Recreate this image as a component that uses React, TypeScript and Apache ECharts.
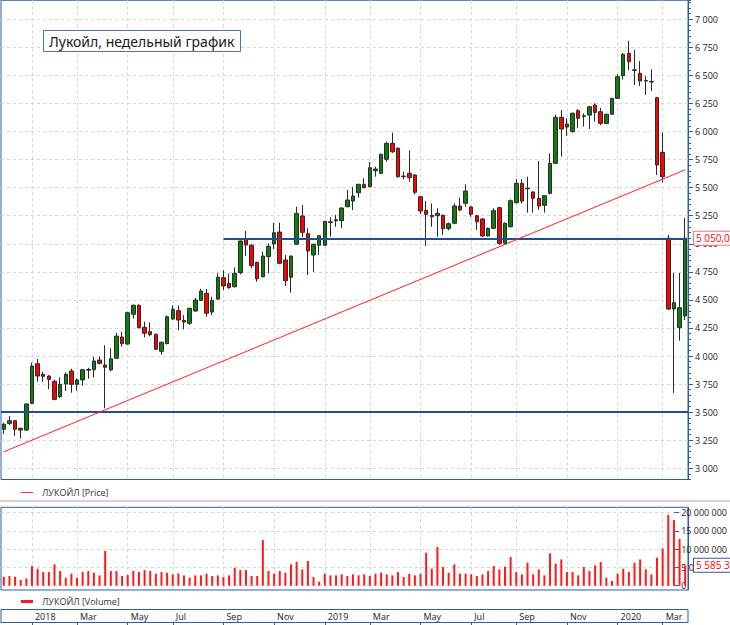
import React, { useEffect, useRef } from 'react';
import * as echarts from 'echarts';

const TITLE = 'Лукойл, недельный график';
const PRICE_NAME = 'ЛУКОЙЛ [Price]';
const VOLUME_NAME = 'ЛУКОЙЛ [Volume]';
const FIRST_WEEK_UTC = Date.UTC(2017, 11, 3);
const MONTH_LABELS = ['Jan', 'Feb', 'Mar', 'Apr', 'May', 'Jun', 'Jul', 'Aug', 'Sep', 'Oct', 'Nov', 'Dec'];

const opens = [
  3347, 3400, 3424, 3356, 3340, 3579, 3932, 3837, 3822, 3775, 3638, 3751, 3867, 3748, 3787, 3874, 3878, 3964, 3920, 3876,
  3980, 4170, 4107, 4372, 4452, 4256, 4217, 4194, 4042, 4110, 4330, 4404, 4318, 4292, 4401, 4496, 4559, 4392, 4508, 4698,
  4648, 4618, 4742, 5043, 4987, 4835, 4707, 4885, 4998, 5105, 4856, 4702, 4996, 5248, 5090, 4900, 4987, 4987, 5190, 5205,
  5206, 5331, 5381, 5455, 5530, 5509, 5651, 5628, 5753, 5895, 5851, 5598, 5628, 5613, 5420, 5298, 5254, 5250, 5254, 5135,
  5183, 5337, 5361, 5328, 5250, 5221, 5070, 5138, 5322, 5004, 5152, 5366, 5539, 5490, 5461, 5405, 5343, 5450, 5717, 6127,
  6067, 6000, 6186, 6135, 6147, 6236, 6177, 6073, 6154, 6296, 6498, 6697, 6550, 6519, 6455, 6446, 6302, 5815, 5050, 4419,
  4253, 4357,
];
const closes = [
  3392, 3424, 3347, 3340, 3573, 3911, 3822, 3819, 3792, 3614, 3748, 3837, 3748, 3787, 3878, 3880, 3956, 3935, 3900, 3976,
  4178, 4110, 4386, 4452, 4253, 4203, 4190, 4060, 4122, 4350, 4416, 4321, 4303, 4425, 4499, 4579, 4381, 4496, 4702, 4624,
  4609, 4737, 5025, 4989, 4805, 4689, 4891, 4978, 5099, 4826, 4671, 4891, 5271, 5102, 4936, 4996, 5072, 5200, 5196, 5215,
  5319, 5390, 5426, 5530, 5500, 5678, 5666, 5797, 5895, 5820, 5598, 5603, 5589, 5459, 5292, 5263, 5241, 5272, 5135, 5179,
  5337, 5301, 5470, 5263, 5197, 5070, 5138, 5295, 5004, 5183, 5384, 5539, 5381, 5495, 5405, 5337, 5429, 5717, 6127, 6023,
  6041, 6163, 6118, 6140, 6221, 6171, 6073, 6154, 6296, 6489, 6688, 6622, 6545, 6450, 6450, 6442, 5702, 5598, 4419, 4475,
  4431, 5050,
];
const lows = [
  3306, 3386, 3290, 3267, 3335, 3570, 3771, 3771, 3704, 3605, 3626, 3689, 3673, 3692, 3736, 3798, 3810, 3926, 3534, 3864,
  3975, 4083, 4100, 4333, 4245, 4167, 4175, 4055, 4012, 4105, 4325, 4229, 4238, 4277, 4395, 4490, 4350, 4366, 4500, 4588,
  4600, 4610, 4728, 4891, 4782, 4662, 4700, 4737, 4954, 4820, 4624, 4564, 4990, 5058, 4722, 4751, 4900, 4980, 5063, 5152,
  5138, 5325, 5301, 5411, 5495, 5505, 5598, 5620, 5732, 5810, 5590, 5575, 5553, 5440, 5265, 4981, 5152, 5063, 5079, 5120,
  5175, 5290, 5331, 5240, 5123, 5060, 5065, 5130, 4990, 4996, 5145, 5360, 5360, 5277, 5277, 5301, 5277, 5440, 5710, 5776,
  5960, 5990, 6029, 6044, 6023, 6088, 6058, 6065, 6150, 6290, 6465, 6548, 6415, 6406, 6326, 6361, 5613, 5544, 4410, 3671,
  4137, 4320,
];
const highs = [
  3406, 3466, 3430, 3362, 3580, 3941, 3974, 3860, 3830, 3790, 3810, 3855, 3887, 3800, 3885, 3896, 3994, 3994, 4096, 4069,
  4205, 4217, 4395, 4460, 4460, 4306, 4300, 4200, 4130, 4360, 4452, 4452, 4366, 4430, 4520, 4600, 4597, 4529, 4737, 4764,
  4734, 4790, 5030, 5114, 5000, 4840, 4930, 5004, 5188, 5188, 4900, 4895, 5331, 5346, 5138, 5000, 5078, 5205, 5236, 5257,
  5325, 5479, 5508, 5535, 5584, 5728, 5687, 5805, 5910, 5990, 5860, 5643, 5830, 5620, 5425, 5381, 5360, 5316, 5260, 5190,
  5360, 5411, 5530, 5335, 5255, 5230, 5145, 5316, 5330, 5190, 5395, 5577, 5577, 5598, 5470, 5738, 5435, 5806, 6150, 6192,
  6118, 6170, 6200, 6163, 6228, 6252, 6212, 6160, 6300, 6510, 6700, 6809, 6727, 6628, 6495, 6555, 6310, 5990, 5080, 4740,
  4740, 5230,
];
const volumes = [
  2470000, 2650000, 2470000, 1550000, 2000000, 5390000, 4660000, 3740000, 3740000, 5840000,
  4020000, 2190000, 3290000, 2190000, 3740000, 4020000, 3560000, 2830000, 9500000, 4020000,
  4020000, 2650000, 2920000, 4020000, 3740000, 4290000, 4020000, 3290000, 3740000, 3560000,
  3100000, 3380000, 2830000, 2190000, 2830000, 2830000, 3290000, 2650000, 2830000, 2370000,
  2830000, 4930000, 4290000, 4290000, 2650000, 2650000, 12500000, 4020000, 3290000, 4020000,
  3560000, 5840000, 6580000, 4470000, 6760000, 2370000, 1100000, 3290000, 2830000, 2830000,
  3100000, 2650000, 3100000, 2830000, 3100000, 2650000, 3290000, 3560000, 3100000, 2830000,
  3740000, 2370000, 3290000, 2830000, 3290000, 9040000, 4660000, 10600000, 5110000, 3560000,
  5840000, 3290000, 3290000, 3100000, 2650000, 3100000, 4020000, 5390000, 4470000, 5200000,
  7850000, 3740000, 3100000, 6300000, 3100000, 4470000, 2830000, 8860000, 6030000, 7210000,
  3740000, 3740000, 2830000, 5110000, 4020000, 5570000, 6480000, 2190000, 1280000, 3290000,
  4660000, 3740000, 6300000, 7210000, 4470000, 3100000, 7670000, 10230000, 19360000, 18000000,
  12800000, 5585330,
];

const SUPPORT_LEVEL = 3500;
const RESISTANCE_LEVEL = 5045;
const RESISTANCE_FROM = 39;
const TREND_FROM = 3147;
const TREND_TO = 5659;

const PRICE_TICK_MIN = 3000;
const PRICE_TICK_MAX = 7000;
const PRICE_TICK_STEP = 250;
const PRICE_FRAME_MIN = 2900;
const PRICE_FRAME_MAX = 7170;
const PRICE_MINOR_STEP = 50;
const VOL_TICK_MAX = 20000000;
const VOL_TICK_STEP = 5000000;
const VOL_FRAME_MIN = -1180000;
const VOL_FRAME_MAX = 21480000;

const weeks = opens.map((_, i) => new Date(FIRST_WEEK_UTC + i * 7 * 86400000).toISOString().slice(0, 10));
const monthOf = (s: string) => Number(s.slice(5, 7)) - 1;
const isBoundary = (i: number) =>
  i > 0 && monthOf(weeks[i]) !== monthOf(weeks[i - 1]) && monthOf(weeks[i]) % 2 === 0;
const fmtThousands = (v: number) => String(Math.round(v)).replace(/\B(?=(\d{3})+(?!\d))/g, ' ');

const BLUE = '#2f5e9d';
const LINE_BLUE = '#1f4f8f';
const GRID_GRAY = '#d6d6d6';
const FONT = 'Open Sans';

// layout (pixels)
const PLOT_LEFT = 1;
const PLOT_WIDTH = 687;
const PRICE_BOTTOM = 479.5;
const PRICE_PX = 0.112235;
const VOL_ZERO = 585.7;
const VOL_PX = 3.65e-6;

export default function App() {
  const ref = useRef<HTMLDivElement>(null);
  useEffect(() => {
    if (!ref.current) return;
    const chart = echarts.init(ref.current, undefined, { renderer: 'svg' });
    const py = (v: number) => PRICE_BOTTOM - (v - PRICE_FRAME_MIN) * PRICE_PX;
    const vy = (v: number) => VOL_ZERO - v * VOL_PX;
    const lastPrice = closes[closes.length - 1];
    const lastVol = volumes[volumes.length - 1];

    const dashed = { show: true, lineStyle: { color: GRID_GRAY, type: [3, 3] as any, width: 1 } };
    const hiddenX = (gridIndex: number) => ({
      type: 'category', gridIndex, data: weeks, boundaryGap: true,
      axisLine: { show: false }, axisTick: { show: false }, axisLabel: { show: false }, splitLine: { show: false },
    });
    const frameX = (gridIndex: number) => ({
      type: 'category', gridIndex, data: weeks, boundaryGap: true,
      axisLine: { show: false }, axisTick: { show: false }, axisLabel: { show: false },
      splitLine: { ...dashed, interval: (i: number) => isBoundary(i), alignWithLabel: true },
    });

    chart.setOption({
      animation: false,
      textStyle: { fontFamily: FONT },
      title: {
        text: TITLE, left: 43, top: 30, padding: [4, 6, 4, 6],
        borderColor: '#4a77b4', borderWidth: 1, backgroundColor: '#fff',
        textStyle: { fontFamily: 'Noto Sans', fontSize: 14, fontWeight: 'normal', color: '#1a1a1a' },
      },
      grid: [
        { left: PLOT_LEFT, width: PLOT_WIDTH, top: py(PRICE_FRAME_MAX), height: py(PRICE_FRAME_MIN) - py(PRICE_FRAME_MAX), show: true, borderColor: BLUE, borderWidth: 1, backgroundColor: 'transparent' },
        { left: PLOT_LEFT, width: PLOT_WIDTH, top: py(PRICE_TICK_MAX), height: py(PRICE_TICK_MIN) - py(PRICE_TICK_MAX) },
        { left: PLOT_LEFT, width: PLOT_WIDTH, top: vy(VOL_FRAME_MAX), height: vy(VOL_FRAME_MIN) - vy(VOL_FRAME_MAX), show: true, borderColor: BLUE, borderWidth: 1, backgroundColor: 'transparent' },
        { left: PLOT_LEFT, width: PLOT_WIDTH, top: vy(VOL_TICK_MAX), height: vy(0) - vy(VOL_TICK_MAX) },
        { left: PLOT_LEFT, width: PLOT_WIDTH, top: 609.5, height: 13, show: true, borderColor: BLUE, borderWidth: 1, backgroundColor: 'transparent' },
      ],
      xAxis: [
        frameX(0),
        hiddenX(1),
        frameX(2),
        hiddenX(3),
        {
          type: 'category', gridIndex: 4, data: weeks, boundaryGap: true, position: 'top',
          axisLine: { show: true, lineStyle: { color: BLUE, width: 1 } },
          axisTick: { show: true, inside: true, length: 13, alignWithLabel: true, interval: (i: number) => isBoundary(i), lineStyle: { color: BLUE } },
          axisLabel: {
            show: true, inside: true, margin: 2, align: 'left', padding: [0, 0, 0, 3],
            interval: (i: number) => isBoundary(i), fontSize: 9, color: '#222', fontFamily: FONT,
            formatter: (v: string) => (monthOf(v) === 0 ? v.slice(0, 4) : MONTH_LABELS[monthOf(v)]),
          },
          splitLine: { show: false },
        },
      ],
      yAxis: [
        {
          type: 'value', gridIndex: 0, position: 'right', min: PRICE_FRAME_MIN, max: PRICE_FRAME_MAX, interval: PRICE_MINOR_STEP,
          axisLine: { show: true, lineStyle: { color: BLUE } },
          axisTick: { show: true, length: 3, lineStyle: { color: BLUE } },
          axisLabel: { show: false }, splitLine: { show: false },
        },
        {
          type: 'value', gridIndex: 1, position: 'right', min: PRICE_TICK_MIN, max: PRICE_TICK_MAX, interval: PRICE_TICK_STEP,
          axisLine: { show: false },
          axisTick: { show: true, length: 5, lineStyle: { color: BLUE } },
          axisLabel: { show: true, margin: 7, fontSize: 9, color: '#222', fontFamily: FONT, formatter: (v: number) => fmtThousands(v) },
          splitLine: dashed,
        },
        {
          type: 'value', gridIndex: 2, position: 'right', min: VOL_FRAME_MIN, max: VOL_FRAME_MAX,
          axisLine: { show: true, lineStyle: { color: BLUE } },
          axisTick: { show: false }, axisLabel: { show: false }, splitLine: { show: false },
        },
        {
          type: 'value', gridIndex: 3, position: 'right', min: 0, max: VOL_TICK_MAX, interval: VOL_TICK_STEP,
          axisLine: { show: false },
          axisTick: { show: true, length: 5, lineStyle: { color: BLUE } },
          axisLabel: { show: true, margin: 7, fontSize: 9, color: '#222', fontFamily: FONT, formatter: (v: number) => fmtThousands(v) },
          splitLine: dashed,
        },
        { type: 'value', gridIndex: 4, show: false },
      ],
      series: [
        {
          name: PRICE_NAME, type: 'candlestick', xAxisIndex: 0, yAxisIndex: 0, barWidth: 4, clip: false,
          data: opens.map((o, i) => [o, closes[i], lows[i], highs[i]]),
          itemStyle: { color: '#0e7c0e', color0: '#ff0000', borderColor: '#2a2a2a', borderColor0: '#2a2a2a', borderWidth: 1 },
          markLine: {
            silent: true, symbol: ['none', 'none'], animation: false,
            label: { show: false },
            data: [
              { yAxis: SUPPORT_LEVEL, lineStyle: { color: LINE_BLUE, width: 2, type: 'solid' } },
              [
                { coord: [weeks[RESISTANCE_FROM], RESISTANCE_LEVEL], lineStyle: { color: LINE_BLUE, width: 2, type: 'solid' } },
                { coord: [weeks[weeks.length - 1], RESISTANCE_LEVEL] },
              ],
              [
                { coord: [weeks[0], TREND_FROM], lineStyle: { color: '#ff2020', width: 1, type: 'solid' } },
                { coord: [weeks[weeks.length - 1], TREND_TO] },
              ],
              {
                yAxis: lastPrice, lineStyle: { color: 'transparent', width: 0 },
                label: {
                  show: true, position: 'end', distance: 6, formatter: lastPrice.toFixed(1).replace('.', ',').replace(/\B(?=(\d{3})+(?!\d))/, ' '),
                  color: '#ff0000', backgroundColor: '#fff', borderColor: '#ff7070', borderWidth: 1,
                  padding: [2, 2, 1, 2], fontSize: 10, fontFamily: FONT,
                },
              },
            ],
          },
        },
        {
          name: VOLUME_NAME, type: 'bar', xAxisIndex: 2, yAxisIndex: 2, barWidth: 2, clip: false,
          data: volumes, itemStyle: { color: '#ff1a1a' },
          markLine: {
            silent: true, symbol: ['none', 'none'], animation: false,
            data: [
              {
                yAxis: lastVol, lineStyle: { color: 'transparent', width: 0 },
                label: {
                  show: true, position: 'end', distance: 6, formatter: fmtThousands(lastVol),
                  color: '#ff0000', backgroundColor: '#fff', borderColor: BLUE, borderWidth: 1,
                  padding: [2, 2, 1, 2], fontSize: 10, fontFamily: FONT,
                },
              },
            ],
          },
        },
      ],
      graphic: [
        { type: 'rect', shape: { x: 0, y: 500, width: 730, height: 2 }, style: { fill: '#d4d4d4' }, silent: true },
        { type: 'line', shape: { x1: 21, y1: 492.5, x2: 33, y2: 492.5 }, style: { stroke: '#ff3030', lineWidth: 1 } },
        { type: 'text', x: 42, y: 492.5, style: { text: PRICE_NAME, fill: '#333', font: `9px "${FONT}"`, textVerticalAlign: 'middle' } },
        { type: 'line', shape: { x1: 21, y1: 601.5, x2: 33, y2: 601.5 }, style: { stroke: '#ff1a1a', lineWidth: 3 } },
        { type: 'text', x: 42, y: 601.5, style: { text: VOLUME_NAME, fill: '#333', font: `9px "${FONT}"`, textVerticalAlign: 'middle' } },
      ],
    });
    return () => chart.dispose();
  }, []);
  return <div ref={ref} style={{ position: 'fixed', left: 0, top: 0, width: 730, height: 625, background: '#fff' }} />;
}
